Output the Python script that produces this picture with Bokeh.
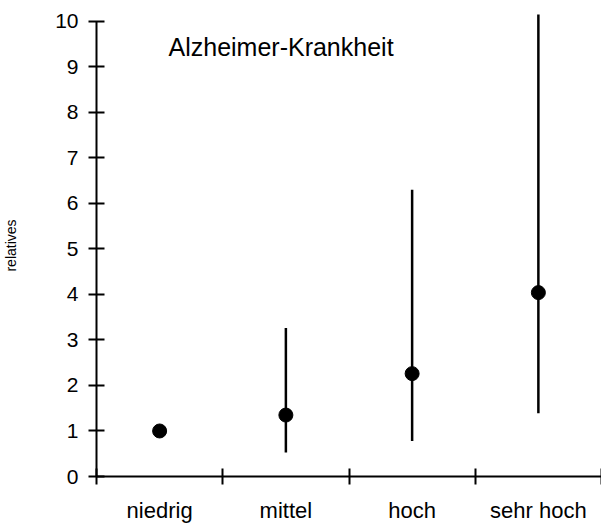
from bokeh.plotting import figure
from bokeh.models import FixedTicker, Label, Range1d, ColumnDataSource
from bokeh.embed import file_html
from bokeh.resources import INLINE

# ---- data ----
categories = ["niedrig", "mittel", "hoch", "sehr hoch"]
relative_risk = [1.0, 1.35, 2.26, 4.04]
ci_lower = [None, 0.53, 0.78, 1.39]
ci_upper = [None, 3.26, 6.30, 10.6]
y_ticks = [0, 1, 2, 3, 4, 5, 6, 7, 8, 9, 10]
title_text = "Alzheimer-Krankheit"
y_label_text = "relatives"

FONT = "Liberation Sans"

x_pos = [i + 0.5 for i in range(len(categories))]
boundaries = [float(i) for i in range(len(categories) + 1)]

pts = ColumnDataSource(data=dict(x=x_pos, rr=relative_risk))
ci_idx = [i for i in range(len(categories)) if ci_lower[i] is not None]
ci = ColumnDataSource(data=dict(
    x=[x_pos[i] for i in ci_idx],
    lo=[ci_lower[i] for i in ci_idx],
    hi=[ci_upper[i] for i in ci_idx],
))

p = figure(
    width=601, height=525,
    x_range=Range1d(0, 4.0), y_range=Range1d(0, 10.15),
    output_backend="svg", toolbar_location=None,
    min_border_left=94, min_border_right=0, min_border_top=14, min_border_bottom=46,
)
p.outline_line_color = None
p.xgrid.visible = False
p.ygrid.visible = False
p.background_fill_color = "white"
p.border_fill_color = "white"

p.segment(x0="x", y0="lo", x1="x", y1="hi", source=ci, line_color="black", line_width=2.5)
p.scatter(x="x", y="rr", source=pts, size=14, marker="circle", fill_color="black", line_color="black")

# x axis: labels centred in each category, tick marks at boundaries
xa = p.xaxis[0]
xa.ticker = FixedTicker(ticks=x_pos, minor_ticks=boundaries)
xa.major_label_overrides = {x: c for x, c in zip(x_pos, categories)}
xa.major_tick_in = 0
xa.major_tick_out = 0
xa.minor_tick_in = 8
xa.minor_tick_out = 8
xa.minor_tick_line_width = 2
xa.minor_tick_line_color = "black"
xa.axis_line_width = 2
xa.axis_line_color = "black"
xa.major_label_standoff = 13
xa.major_label_text_font = FONT
xa.major_label_text_font_size = "22px"
xa.major_label_text_color = "black"

ya = p.yaxis[0]
ya.ticker = FixedTicker(ticks=y_ticks)
ya.bounds = (0, 10)
ya.major_tick_in = 8
ya.major_tick_out = 8
ya.major_tick_line_width = 2
ya.major_tick_line_color = "black"
ya.minor_tick_line_color = None
ya.axis_line_width = 2
ya.axis_line_color = "black"
ya.major_label_standoff = 10
ya.major_label_text_font = FONT
ya.major_label_text_font_size = "21px"
ya.major_label_text_color = "black"
ya.axis_label = y_label_text
ya.axis_label_text_font = FONT
ya.axis_label_text_font_size = "14px"
ya.axis_label_text_font_style = "normal"
ya.axis_label_text_color = "black"
ya.axis_label_standoff = 33
ya.axis_label_text_align = "right"

title = Label(x=72, y=9.43, x_units="screen", y_units="data", text=title_text,
              text_font=FONT, text_font_size="25px", text_color="black",
              text_align="left", text_baseline="alphabetic")
p.add_layout(title)

open("out.html", "w").write(file_html(p, INLINE))
